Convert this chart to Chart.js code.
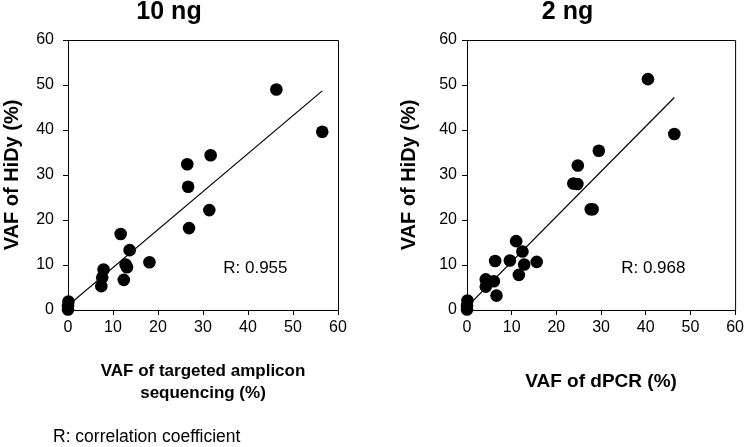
<!DOCTYPE html>
<html>
<head>
<meta charset="utf-8">
<script src="https://cdn.jsdelivr.net/npm/chart.js@4.4.1/dist/chart.umd.min.js"></script>
<style>
  html, body { margin: 0; padding: 0; background: #fff; }
  body { width: 747px; height: 447px; position: relative; overflow: hidden; }
  canvas { position: absolute; top: 0; }
  #left { left: 0; }
  #right { left: 397px; }
</style>
</head>
<body>
<canvas id="left" width="375" height="447"></canvas>
<canvas id="right" width="350" height="447"></canvas>
<script>
(function () {
    "use strict";

    // 10 ng panel: targeted amplicon sequencing vs HiDy
    var tasX   = [46.3, 56.5, 31.7, 26.5, 26.7, 31.4, 26.9, 11.7, 13.7, 18.1, 12.8, 13.1, 7.9, 7.6, 7.4, 12.4, 0.1, 0.0, 0.0];
    var hidy10 = [49.0, 39.6, 34.4, 32.4, 27.4, 22.2, 18.2, 16.9, 13.3, 10.6, 10.1, 9.5, 9.0, 7.2, 5.3, 6.7, 1.9, 0.9, 0.1];

    // 2 ng panel: dPCR vs HiDy
    var dpcrX  = [40.5, 46.4, 29.5, 24.8, 23.8, 24.7, 27.7, 28.1, 11.0, 12.4, 6.3, 9.6, 12.8, 15.6, 11.6, 4.2, 6.0, 4.2, 6.6, 0.1, 0.0, 0.0];
    var hidy2  = [51.3, 39.1, 35.4, 32.1, 28.1, 28.0, 22.4, 22.4, 15.3, 13.0, 10.9, 11.0, 10.1, 10.7, 7.8, 6.8, 6.4, 5.2, 3.2, 2.1, 1.0, 0.1];

    var axisTicks = [0, 10, 20, 30, 40, 50, 60];
    var panelTitles = ["10 ng", "2 ng"];
    var rLabels = ["R: 0.955", "R: 0.968"];
    var footnote = "R: correlation coefficient";

    var FONT = "'Liberation Sans', Arial, Helvetica, sans-serif";

    function toPoints(xs, ys) {
        return xs.map(function (x, i) { return { x: x, y: ys[i] }; });
    }

    // least squares fit, drawn from min x to max x
    function fitLine(xs, ys) {
        var n = xs.length, sx = 0, sy = 0, sxx = 0, sxy = 0;
        for (var i = 0; i < n; i++) {
            sx += xs[i]; sy += ys[i]; sxx += xs[i] * xs[i]; sxy += xs[i] * ys[i];
        }
        var b = (n * sxy - sx * sy) / (n * sxx - sx * sx);
        var a = (sy - b * sx) / n;
        var x0 = Math.min.apply(null, xs), x1 = Math.max.apply(null, xs);
        return [{ x: x0, y: a + b * x0 }, { x: x1, y: a + b * x1 }];
    }

    // frame on top/right + annotation text
    var extras = {
        id: 'extras',
        afterDraw: function (chart, args, opts) {
            var ctx = chart.ctx, ca = chart.chartArea;
            ctx.save();
            ctx.strokeStyle = '#000';
            ctx.lineWidth = 1;
            ctx.beginPath();
            ctx.moveTo(ca.left, ca.top + 0.5);
            ctx.lineTo(ca.right + 0.5, ca.top + 0.5);
            ctx.lineTo(ca.right + 0.5, ca.bottom);
            ctx.stroke();

            ctx.fillStyle = '#000';
            ctx.textBaseline = 'middle';
            ctx.textAlign = 'left';
            ctx.font = "17px " + FONT;
            var xs = chart.scales.x, ys = chart.scales.y;
            ctx.fillText(opts.rText, xs.getPixelForValue(opts.rAt[0]), ys.getPixelForValue(opts.rAt[1]));

            if (opts.note) {
                ctx.font = "17.5px " + FONT;
                ctx.fillText(opts.note, 53, 437);
            }
            ctx.restore();
        }
    };

    function makeChart(id, p) {
        var ctx = document.getElementById(id).getContext('2d');
        return new Chart(ctx, {
            data: {
                datasets: [{
                    type: 'scatter',
                    data: toPoints(p.xs, p.ys),
                    backgroundColor: '#000',
                    borderWidth: 0,
                    pointRadius: 6.3,
                    clip: false
                }, {
                    type: 'line',
                    data: fitLine(p.xs, p.ys),
                    borderColor: '#000',
                    borderWidth: 1.2,
                    pointRadius: 0,
                    fill: false
                }]
            },
            options: {
                responsive: false,
                animation: false,
                devicePixelRatio: 1,
                layout: { padding: { left: 0, right: p.padRight, top: 0, bottom: 0 } },
                plugins: {
                    legend: { display: false },
                    tooltip: { enabled: false },
                    title: {
                        display: true,
                        text: p.title,
                        color: '#000',
                        font: { family: FONT, size: 25, weight: 'bold', lineHeight: 1 },
                        padding: { top: 0, bottom: 15 }
                    },
                    extras: { rText: p.rText, rAt: [34.5, 9.3], note: p.note }
                },
                scales: {
                    x: {
                        type: 'linear',
                        min: 0, max: 60,
                        afterBuildTicks: function (s) { s.ticks = axisTicks.map(function (v) { return { value: v }; }); },
                        afterFit: function (s) { s.height = 137; },
                        ticks: { color: '#000', font: { family: FONT, size: 16 }, padding: 3, maxRotation: 0 },
                        grid: { drawOnChartArea: false, drawTicks: true, tickLength: 5, color: '#000' },
                        border: { display: true, color: '#000', width: 1 },
                        title: {
                            display: true,
                            text: p.xTitle,
                            color: '#000',
                            font: { family: FONT, size: p.xTitleSize, weight: 'bold', lineHeight: 1.3 },
                            padding: { top: 0, bottom: p.xTitlePad }
                        }
                    },
                    y: {
                        type: 'linear',
                        min: 0, max: 60,
                        afterBuildTicks: function (s) { s.ticks = axisTicks.map(function (v) { return { value: v }; }); },
                        afterFit: function (s) { s.width = p.yWidth; },
                        ticks: { color: '#000', font: { family: FONT, size: 16 }, padding: p.yTickPad },
                        grid: { drawOnChartArea: false, drawTicks: true, tickLength: 5, color: '#000' },
                        border: { display: true, color: '#000', width: 1 },
                        title: {
                            display: true,
                            text: 'VAF of HiDy (%)',
                            color: '#000',
                            font: { family: FONT, size: 20, weight: 'bold', lineHeight: 1.2 },
                            padding: 0
                        }
                    }
                }
            },
            plugins: [extras]
        });
    }

    makeChart('left', {
        xs: tasX, ys: hidy10, title: panelTitles[0],
        xTitle: ['VAF of targeted amplicon', 'sequencing (%)'], xTitleSize: 17, xTitlePad: 43,
        yWidth: 68, yTickPad: 9, padRight: 37, rText: rLabels[0], note: footnote
    });
    makeChart('right', {
        xs: dpcrX, ys: hidy2, title: panelTitles[1],
        xTitle: 'VAF of dPCR (%)', xTitleSize: 19, xTitlePad: 53,
        yWidth: 70, yTickPad: 5, padRight: 9, rText: rLabels[1], note: null
    });
})();
</script>
</body>
</html>
